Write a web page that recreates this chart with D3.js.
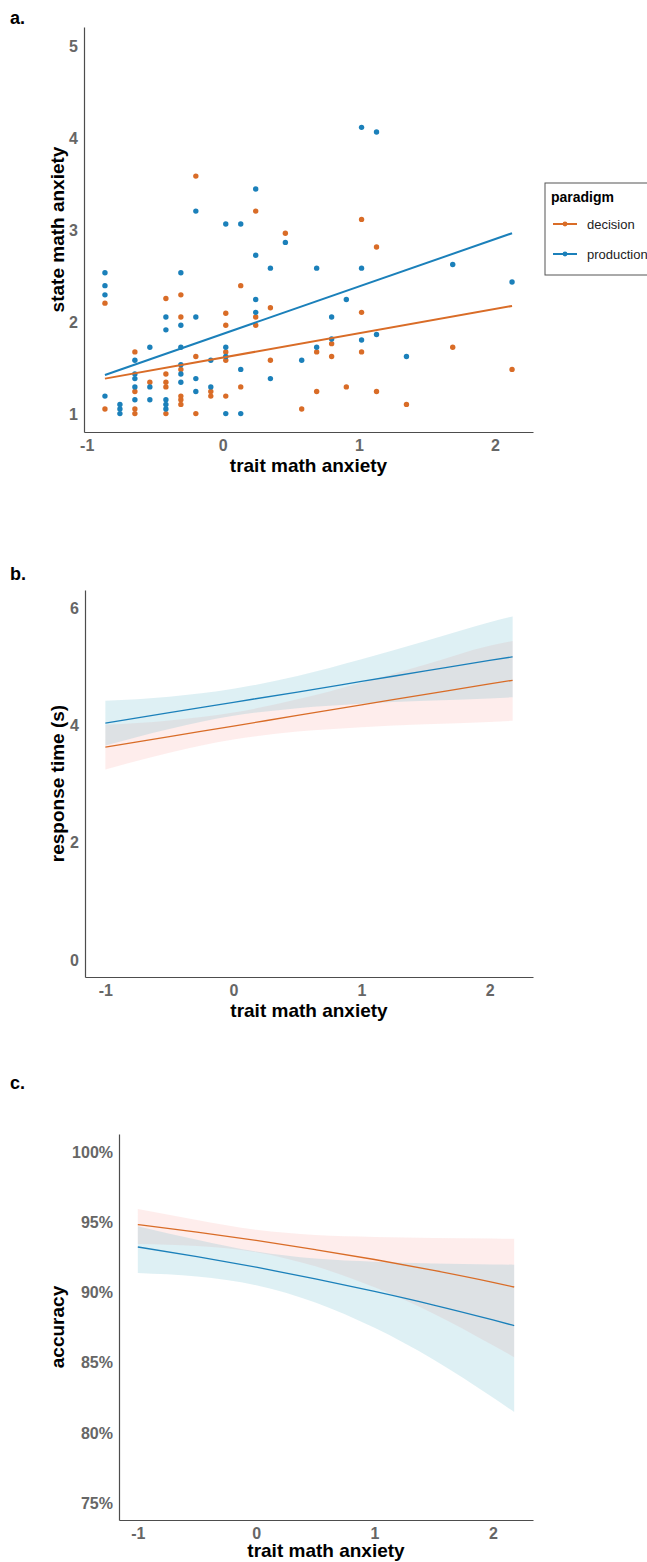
<!DOCTYPE html>
<html>
<head>
<meta charset="utf-8">
<style>
  body { margin: 0; background: #fff; }
  svg { display: block; font-family: "Liberation Sans", Arial, Helvetica, sans-serif; }
  .axis .domain { stroke: #4d4d4d; stroke-width: 1.2; }
  .axis .tick line { display: none; }
  .axis .tick text { font-size: 16px; font-weight: bold; fill: #666; }
  .title { font-size: 19px; font-weight: bold; fill: #000; }
  .panel { font-size: 18px; font-weight: bold; fill: #000; }
</style>
</head>
<body>
<svg width="647" height="1562"></svg>

<script src="https://d3js.org/d3.v7.min.js"></script>
<script>
// ---- panel a: state vs trait math anxiety (points) ----
let decisionX = [-0.866, -0.866,
  -0.646, -0.646, -0.646, -0.646,
  -0.536,
  -0.418, -0.418, -0.418, -0.418, -0.418,
  -0.308, -0.308, -0.308, -0.308, -0.308, -0.308,
  -0.198, -0.198, -0.198,
  -0.088, -0.088,
  0.022, 0.022, 0.022, 0.022, 0.022,
  0.132, 0.132,
  0.242, 0.242, 0.242,
  0.35, 0.35,
  0.46, 0.58, 0.69, 0.69, 0.80, 0.80, 0.908,
  1.02, 1.02, 1.02, 1.13, 1.13, 1.35, 1.69, 2.126]
let decisionY = [2.20, 1.05,
  1.67, 1.24, 1.05, 1.00,
  1.34,
  2.25, 1.43, 1.34, 1.29, 1.00,
  2.29, 2.05, 1.48, 1.19, 1.15, 1.10,
  3.58, 1.62, 1.00,
  1.24, 1.19,
  2.09, 1.96, 1.67, 1.58, 1.19,
  2.39, 1.29,
  3.20, 2.05, 1.96,
  2.15, 1.58,
  2.96, 1.05, 1.67, 1.24, 1.76, 1.62, 1.29,
  3.11, 2.10, 1.67, 2.81, 1.24, 1.10, 1.72, 1.48]

let productionX = [-0.866, -0.866, -0.866, -0.866,
  -0.756, -0.756, -0.756,
  -0.646, -0.646, -0.646, -0.646, -0.646,
  -0.536, -0.536, -0.536,
  -0.418, -0.418, -0.418, -0.418, -0.418,
  -0.308, -0.308, -0.308, -0.308, -0.308, -0.308,
  -0.198, -0.198, -0.198, -0.198,
  -0.088, -0.088,
  0.022, 0.022, 0.022, 0.022,
  0.132, 0.132, 0.132,
  0.242, 0.242, 0.242, 0.242,
  0.35, 0.35, 0.46, 0.58, 0.69, 0.69, 0.80, 0.80, 0.908,
  1.02, 1.02, 1.02, 1.13, 1.13, 1.35, 1.69, 2.126]
let productionY = [2.53, 2.39, 2.29, 1.19,
  1.10, 1.05, 1.00,
  1.58, 1.43, 1.38, 1.29, 1.15,
  1.72, 1.29, 1.15,
  2.05, 1.91, 1.15, 1.10, 1.05,
  2.53, 1.96, 1.72, 1.53, 1.43, 1.34,
  3.20, 2.05, 1.38, 1.24,
  1.58, 1.29,
  3.06, 1.72, 1.62, 1.00,
  3.06, 1.48, 1.00,
  3.44, 2.72, 2.24, 2.10,
  2.58, 1.38, 2.86, 1.58, 2.58, 1.72, 2.05, 1.81, 2.24,
  4.11, 2.58, 1.80, 4.06, 1.86, 1.62, 2.62, 2.43]

// fitted lines (end points)
let fitX = [-0.866, 2.126]
let decisionFit = [1.38, 2.17]
let productionFit = [1.42, 2.96]

let ticksA_x = [-1, 0, 1, 2]
let ticksA_y = [1, 2, 3, 4, 5]

// ---- panels b and c: model predictions with confidence bands ----
let curveX = [-1, -0.5, 0, 0.5, 1, 1.5, 2, 2.18]

let rtDecision = [3.62, 3.80, 3.98, 4.16, 4.34, 4.52, 4.70, 4.76]
let rtDecisionLo = [3.24, 3.525, 3.75, 3.885, 3.96, 4.01, 4.05, 4.07]
let rtDecisionHi = [4.00, 4.075, 4.21, 4.435, 4.72, 5.03, 5.35, 5.43]
let rtProduction = [4.03, 4.21, 4.385, 4.56, 4.74, 4.92, 5.10, 5.16]
let rtProductionLo = [3.65, 3.93, 4.155, 4.285, 4.36, 4.41, 4.45, 4.47]
let rtProductionHi = [4.41, 4.48, 4.615, 4.835, 5.12, 5.43, 5.75, 5.85]
let ticksB_y = [0, 2, 4, 6]

let accDecision = [94.80, 94.26, 93.67, 93.01, 92.31, 91.53, 90.68, 90.35]
let accDecisionLo = [93.42, 93.27, 92.83, 91.82, 90.33, 88.45, 86.20, 85.35]
let accDecisionHi = [95.90, 95.12, 94.42, 94.05, 93.91, 93.84, 93.81, 93.78]
let accProduction = [93.20, 92.51, 91.76, 90.93, 90.03, 89.06, 88.00, 87.60]
let accProductionLo = [91.35, 91.09, 90.48, 89.25, 87.44, 85.17, 82.47, 81.44]
let accProductionHi = [94.68, 93.72, 92.88, 92.38, 92.15, 92.03, 91.96, 91.94]
let ticksC_y = [75, 80, 85, 90, 95, 100]

let ticksBC_x = [-1, 0, 1, 2]

let orange = "#d96c27"
let blue = "#1b80ba"
let bandPink = "#f7968c"
let bandBlue = "#5ab4c8"

let svg = d3.select("svg")

function drawAxes(g, x, y, xTicks, yTicks, yFmt, xTitle, yTitle, titleGap) {
  let [x0, x1] = x.range()
  let [y0, y1] = y.range()

  g.append("g")
    .attr("class", "axis")
    .attr("transform", `translate(0,${y0})`)
    .call(d3.axisBottom(x).tickValues(xTicks).tickSize(0).tickPadding(8).tickFormat(d => String(d)))

  g.append("g")
    .attr("class", "axis")
    .attr("transform", `translate(${x0},0)`)
    .call(d3.axisLeft(y).tickValues(yTicks).tickSize(0).tickPadding(6).tickFormat(yFmt))
    .selectAll(".tick text").attr("dy", "0.36em")

  g.append("text")
    .attr("class", "title")
    .attr("x", (x0 + x1) / 2)
    .attr("y", y0 + titleGap)
    .attr("text-anchor", "middle")
    .text(xTitle)

  g.append("text")
    .attr("class", "title")
    .attr("transform", `translate(64,${(y0 + y1) / 2}) rotate(-90)`)
    .attr("text-anchor", "middle")
    .text(yTitle)
}

// ================= panel a =================
let gA = svg.append("g")
gA.append("text").attr("class", "panel").attr("x", 10).attr("y", 24).text("a.")

let xA = d3.scaleLinear().domain([-1.02, 2.28]).range([84, 533])
let yA = d3.scaleLinear().domain([0.8, 5.2]).range([432, 27])

drawAxes(gA, xA, yA, ticksA_x, ticksA_y, d => String(d), "trait math anxiety", "state math anxiety", 40)

gA.append("g").selectAll("circle")
  .data(decisionX.map((d, i) => [d, decisionY[i]]))
  .join("circle")
  .attr("cx", d => xA(d[0]))
  .attr("cy", d => yA(d[1]))
  .attr("r", 2.7)
  .attr("fill", orange)

gA.append("g").selectAll("circle")
  .data(productionX.map((d, i) => [d, productionY[i]]))
  .join("circle")
  .attr("cx", d => xA(d[0]))
  .attr("cy", d => yA(d[1]))
  .attr("r", 2.7)
  .attr("fill", blue)

let fitLine = d3.line().x(d => xA(d[0])).y(d => yA(d[1]))
gA.append("path")
  .datum(fitX.map((d, i) => [d, decisionFit[i]]))
  .attr("d", fitLine).attr("fill", "none").attr("stroke", orange).attr("stroke-width", 2)
gA.append("path")
  .datum(fitX.map((d, i) => [d, productionFit[i]]))
  .attr("d", fitLine).attr("fill", "none").attr("stroke", blue).attr("stroke-width", 2)

// legend
let leg = gA.append("g").attr("transform", "translate(545,183)")
leg.append("rect").attr("width", 110).attr("height", 92)
  .attr("fill", "#fff").attr("stroke", "#555").attr("stroke-width", 1)
leg.append("text").attr("x", 6).attr("y", 19)
  .style("font-size", "14px").style("font-weight", "bold").text("paradigm")
let legItems = [["decision", orange], ["production", blue]]
legItems.forEach((d, i) => {
  let yy = 41 + i * 30
  leg.append("line").attr("x1", 8).attr("x2", 32).attr("y1", yy).attr("y2", yy)
    .attr("stroke", d[1]).attr("stroke-width", 2)
  leg.append("circle").attr("cx", 20).attr("cy", yy).attr("r", 2.4).attr("fill", d[1])
  leg.append("text").attr("x", 42).attr("y", yy + 5)
    .style("font-size", "13px").style("fill", "#222").text(d[0])
})

// ================= ribbon panels =================
function ribbonPanel(g, x, y, series) {
  let area = d3.area()
    .x((d, i) => x(curveX[i]))
    .y0(d => y(d[0]))
    .y1(d => y(d[1]))
    .curve(d3.curveMonotoneX)
  let line = d3.line()
    .x((d, i) => x(curveX[i]))
    .y(d => y(d))
    .curve(d3.curveMonotoneX)
  series.forEach(s => {
    g.append("path")
      .datum(s.lo.map((d, i) => [d, s.hi[i]]))
      .attr("d", area)
      .attr("fill", s.fill)
      .attr("fill-opacity", s.alpha)
  })
  series.forEach(s => {
    g.append("path")
      .datum(s.mid)
      .attr("d", line)
      .attr("fill", "none")
      .attr("stroke", s.color)
      .attr("stroke-width", 1.3)
  })
}

// ================= panel b =================
let gB = svg.append("g")
gB.append("text").attr("class", "panel").attr("x", 10).attr("y", 580).text("b.")

let xB = d3.scaleLinear().domain([-1.159, 2.339]).range([85, 533])
let yB = d3.scaleLinear().domain([-0.3, 6.3]).range([977, 590])

ribbonPanel(gB, xB, yB, [
  { lo: rtDecisionLo, hi: rtDecisionHi, mid: rtDecision, fill: bandPink, alpha: 0.17, color: orange },
  { lo: rtProductionLo, hi: rtProductionHi, mid: rtProduction, fill: bandBlue, alpha: 0.2, color: blue }
])
drawAxes(gB, xB, yB, ticksBC_x, ticksB_y, d => String(d), "trait math anxiety", "response time (s)", 40)

// ================= panel c =================
let gC = svg.append("g")
gC.append("text").attr("class", "panel").attr("x", 10).attr("y", 1089).text("c.")

let xC = d3.scaleLinear().domain([-1.159, 2.339]).range([119, 533])
let yC = d3.scaleLinear().domain([73.75, 101.25]).range([1520, 1134])

ribbonPanel(gC, xC, yC, [
  { lo: accDecisionLo, hi: accDecisionHi, mid: accDecision, fill: bandPink, alpha: 0.17, color: orange },
  { lo: accProductionLo, hi: accProductionHi, mid: accProduction, fill: bandBlue, alpha: 0.2, color: blue }
])
drawAxes(gC, xC, yC, ticksBC_x, ticksC_y, d => d + "%", "trait math anxiety", "accuracy", 37)
</script>
</body>
</html>
